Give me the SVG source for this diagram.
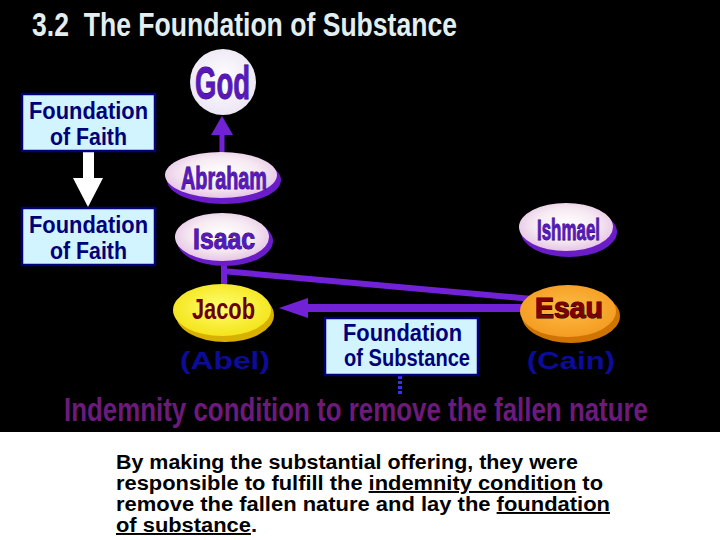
<svg xmlns="http://www.w3.org/2000/svg" width="720" height="540" viewBox="0 0 720 540">
<style>
.cond{font-family:"Liberation Sans",Arial,sans-serif;font-weight:bold}
.box{fill:#d2f4fe;stroke:#00007a;stroke-width:2.5}
.boxt{fill:#00007a;font-size:23px}
.pt{fill:#5818bc;stroke:#22005a;stroke-width:0.9;paint-order:stroke}
.face{stroke:none}
.rimp{fill:#6a1cc8}
.par{fill:#0c0c98;font-size:24px}
.body{font-family:"Liberation Sans",Arial,sans-serif;font-weight:bold;font-size:19.5px;fill:#000}
.u{text-decoration:underline}
.conn{stroke:#7222d6;fill:none}
</style>
<defs>
<radialGradient id="gl" cx="50%" cy="45%" r="55%">
<stop offset="0" stop-color="#ffffff"/>
<stop offset="0.6" stop-color="#f6eaf2"/>
<stop offset="1" stop-color="#e6c6e6"/>
</radialGradient>
<radialGradient id="gy" cx="50%" cy="45%" r="55%">
<stop offset="0" stop-color="#ffff70"/>
<stop offset="1" stop-color="#f4e41a"/>
</radialGradient>
<radialGradient id="go" cx="50%" cy="45%" r="55%">
<stop offset="0" stop-color="#ffbb44"/>
<stop offset="1" stop-color="#f49c22"/>
</radialGradient>
<radialGradient id="gg" cx="50%" cy="45%" r="55%">
<stop offset="0" stop-color="#ffffff"/>
<stop offset="1" stop-color="#ece6f4"/>
</radialGradient>
</defs>
<rect x="0" y="0" width="720" height="432" fill="#000"/>
<rect x="0" y="432" width="720" height="108" fill="#fff"/>

<text class="cond" x="32" y="36" font-size="33" fill="#e2eef0" textLength="425" lengthAdjust="spacingAndGlyphs" xml:space="preserve">3.2  The Foundation of Substance</text>

<g id="connectors">
<line class="conn" x1="222" y1="155" x2="222" y2="132" stroke-width="5"/>
<polygon points="222,116 211,135 233,135" fill="#7222d6"/>
<rect x="83" y="151" width="11" height="28" fill="#fff"/>
<polygon points="73,178 103,178 88,207" fill="#fff"/>
<line class="conn" x1="224" y1="262" x2="224" y2="287" stroke-width="6"/>
<line class="conn" x1="222" y1="271" x2="532" y2="299" stroke-width="6"/>
<line class="conn" x1="305" y1="308" x2="530" y2="308" stroke-width="8"/>
<polygon points="279,308 308,298 308,318" fill="#7222d6"/>
<line x1="400" y1="376" x2="400" y2="396" stroke="#3434ee" stroke-width="4" stroke-dasharray="3 2"/>
</g>

<g id="faith1">
<rect class="box" x="22" y="94" width="133" height="57"/>
<text class="cond boxt" x="29" y="119" textLength="119" lengthAdjust="spacingAndGlyphs">Foundation</text>
<text class="cond boxt" x="50" y="145" textLength="77" lengthAdjust="spacingAndGlyphs">of Faith</text>
</g>

<g id="faith2">
<rect class="box" x="22" y="208" width="133" height="57"/>
<text class="cond boxt" x="29" y="233" textLength="119" lengthAdjust="spacingAndGlyphs">Foundation</text>
<text class="cond boxt" x="50" y="259" textLength="77" lengthAdjust="spacingAndGlyphs">of Faith</text>
</g>

<g id="god">
<circle cx="223" cy="82" r="33" fill="url(#gg)"/>
<text class="cond pt" x="195" y="99" font-size="46" textLength="55" lengthAdjust="spacingAndGlyphs" stroke-width="1.4">God</text>
</g>

<g id="abraham">
<ellipse class="rimp" cx="224" cy="180" rx="57" ry="24"/>
<ellipse class="face" cx="221" cy="175" rx="56" ry="23" fill="url(#gl)"/>
<text class="cond pt" x="181" y="189" font-size="32" textLength="86" lengthAdjust="spacingAndGlyphs">Abraham</text>
</g>

<g id="isaac">
<ellipse class="rimp" cx="225" cy="241" rx="48" ry="25"/>
<ellipse class="face" cx="222" cy="237" rx="47" ry="24" fill="url(#gl)"/>
<text class="cond pt" x="193" y="249" font-size="29" textLength="62" lengthAdjust="spacingAndGlyphs">Isaac</text>
</g>

<g id="ishmael">
<ellipse class="rimp" cx="569" cy="232" rx="48" ry="25"/>
<ellipse class="face" cx="566" cy="227" rx="47" ry="24" fill="url(#gl)"/>
<text class="cond pt" x="537" y="240" font-size="29" textLength="63" lengthAdjust="spacingAndGlyphs">Ishmael</text>
</g>

<g id="jacob">
<ellipse cx="225" cy="315" rx="49" ry="27" fill="#d8b000"/>
<ellipse cx="222" cy="310" rx="49" ry="26" fill="url(#gy)"/>
<text class="cond" x="192" y="319" font-size="30" fill="#6a0000" textLength="63" lengthAdjust="spacingAndGlyphs">Jacob</text>
<text class="cond par" x="180" y="369" textLength="90" lengthAdjust="spacingAndGlyphs">(Abel)</text>
</g>

<g id="esau">
<ellipse cx="571" cy="316" rx="49" ry="27" fill="#d07400"/>
<ellipse cx="568" cy="311" rx="48" ry="26" fill="url(#go)"/>
<text class="cond" x="535" y="318" font-size="30" fill="#800000" stroke="#1a0000" stroke-width="1.2" paint-order="stroke" textLength="68" lengthAdjust="spacingAndGlyphs">Esau</text>
<text class="cond par" x="527" y="369" textLength="88" lengthAdjust="spacingAndGlyphs">(Cain)</text>
</g>

<g id="substance">
<rect class="box" x="325" y="318" width="153" height="57"/>
<text class="cond boxt" x="343" y="341" textLength="119" lengthAdjust="spacingAndGlyphs">Foundation</text>
<text class="cond boxt" x="344" y="366" textLength="126" lengthAdjust="spacingAndGlyphs">of Substance</text>
</g>

<text class="cond" x="64" y="421" font-size="33" fill="#6c1a7c" textLength="584" lengthAdjust="spacingAndGlyphs">Indemnity condition to remove the fallen nature</text>

<g id="caption">
<text class="body" x="116" y="469" textLength="462" lengthAdjust="spacingAndGlyphs">By making the substantial offering, they were</text>
<text class="body" x="116" y="490" textLength="487" lengthAdjust="spacingAndGlyphs">responsible to fulfill the <tspan class="u">indemnity condition</tspan> to</text>
<text class="body" x="116" y="511" textLength="494" lengthAdjust="spacingAndGlyphs">remove the fallen nature and lay the <tspan class="u">foundation</tspan></text>
<text class="body" x="116" y="532" textLength="141" lengthAdjust="spacingAndGlyphs"><tspan class="u">of substance</tspan>.</text>
</g>
</svg>
